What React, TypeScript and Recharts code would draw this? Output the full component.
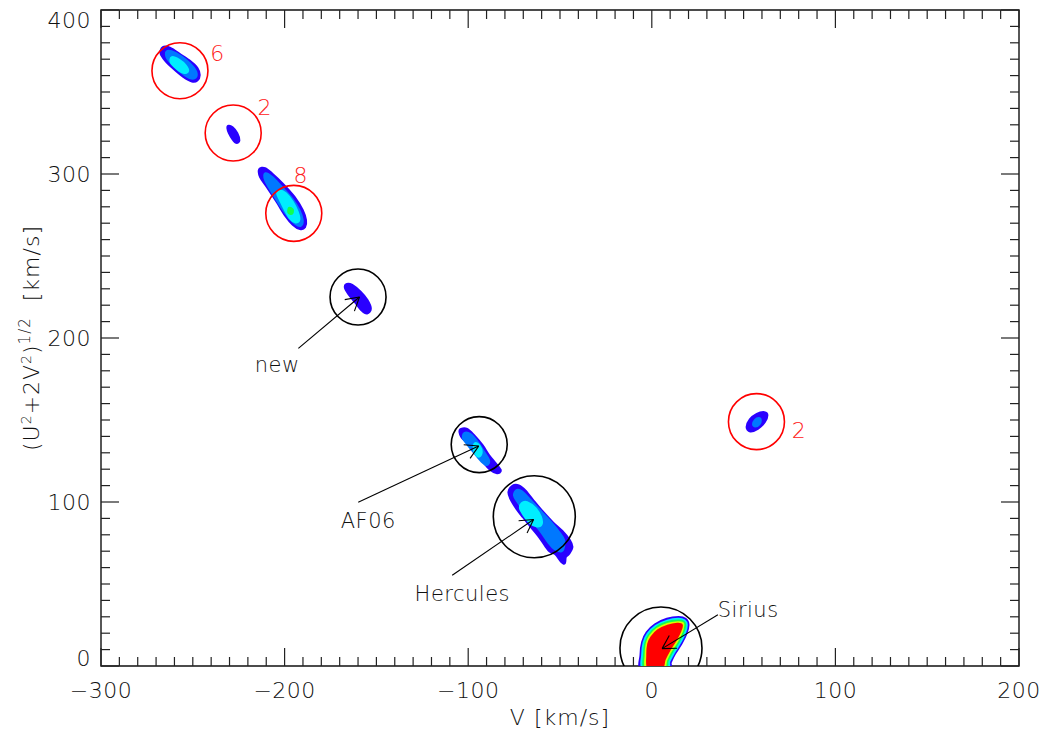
import { ReferenceArea, ReferenceLine, Scatter, ScatterChart, XAxis, YAxis } from 'recharts'

type Pt = [number, number]

const FONT = '"DejaVu Sans", sans-serif'
const LEVEL_COLORS = ['#2a00ff', '#0078ff', '#00eeff', '#10ff50', '#d8ff00', '#ff0000']

// contour outlines in (V, (U^2+2V^2)^1/2) km/s
const group6: { level: number; pts: Pt[] }[] = [
  { level: 0, pts: [[-266.2, 377.1], [-262.3, 376.6], [-256.8, 372.6], [-251.4, 368.5], [-247.7, 364.5], [-246.5, 360.4], [-247.7, 357.3], [-250.4, 356.7], [-255, 359.4], [-260.5, 364.5], [-265, 369.5], [-267.3, 373.6]] },
  { level: 1, pts: [[-264, 374.6], [-259.5, 373.6], [-254.1, 369.5], [-249.6, 364.5], [-248.1, 360.4], [-249.9, 358.4], [-254.1, 360.4], [-259.5, 365.5], [-263.7, 370.5]] },
  { level: 2, pts: [[-261.3, 371], [-257.7, 369.5], [-254.1, 366.1], [-252.8, 362.8], [-255, 362], [-258.6, 364.5], [-261.7, 368.1]] },
]

const group2: { level: number; pts: Pt[] }[] = [
  { level: 0, pts: [[-230.4, 329.1], [-228.5, 328.2], [-226, 324.8], [-224.9, 320.5], [-226.3, 319.3], [-228.2, 321.5], [-230.1, 325.1], [-230.9, 327.9]] },
]

const group8: { level: number; pts: Pt[] }[] = [
  { level: 0, pts: [[-213.6, 302.7], [-210.7, 303.3], [-206.7, 299.8], [-201.3, 294.1], [-194.9, 286], [-190.4, 277.9], [-188.6, 271.8], [-189.1, 267.7], [-191.6, 266.7], [-195.4, 269.3], [-199.5, 274.8], [-204, 282.9], [-209.4, 292.1], [-213.1, 298.2]] },
  { level: 1, pts: [[-210.3, 300.2], [-206.7, 297.8], [-202.2, 292.5], [-195.8, 284.4], [-192.2, 277.9], [-190.4, 271.8], [-191.3, 268.7], [-194, 269.8], [-197.6, 273.8], [-202.2, 280.9], [-206.7, 289], [-210.3, 296.2]] },
  { level: 2, pts: [[-202.7, 289.6], [-199.5, 288], [-195.8, 282.9], [-193.1, 276.8], [-192.2, 272.2], [-194, 270.7], [-196.7, 272.8], [-199.5, 277.9], [-202.2, 284], [-203.8, 288]] },
  { level: 3, pts: [[-197.4, 279.1], [-195.8, 278.2], [-196.1, 276], [-197.7, 276.6]] },
]

const groupNew: { level: number; pts: Pt[] }[] = [
  { level: 0, pts: [[-166, 232.7], [-163.3, 232.1], [-158.8, 228], [-155.1, 223], [-153.3, 217.9], [-155.1, 215.2], [-157.8, 216.9], [-161.5, 222], [-165.1, 227.1], [-166.9, 230.7]] },
]

const groupAF06: { level: number; pts: Pt[] }[] = [
  { level: 0, pts: [[-103.8, 144.3], [-100.7, 144.3], [-97.1, 140.7], [-92.5, 134.6], [-88.9, 128.5], [-85.2, 123.4], [-82.5, 119.3], [-84.3, 117.9], [-88, 119.9], [-91.6, 124.4], [-95.2, 129.5], [-99.8, 135.6], [-103.4, 139.6], [-104.5, 142.7]] },
  { level: 1, pts: [[-102, 141.7], [-98.9, 141.1], [-95.2, 136.6], [-91.6, 130.5], [-88.9, 125.4], [-89.8, 122.8], [-92.5, 124.8], [-96.1, 129.5], [-99.8, 134.6], [-102.5, 138.7]] },
  { level: 2, pts: [[-96.1, 135.6], [-94, 134.1], [-92.9, 130.5], [-94, 128], [-95.8, 129.5], [-96.7, 132.9]] },
]

const groupHercules: { level: number; pts: Pt[] }[] = [
  { level: 0, pts: [[-75.8, 109.6], [-72.5, 109.8], [-68.9, 106.7], [-64.4, 100.4], [-59.8, 94.3], [-54.4, 87.8], [-48.9, 82.1], [-44.9, 76.6], [-43.5, 72.6], [-45.3, 68.5], [-47.1, 66.5], [-47.5, 63], [-48.9, 63.4], [-52.5, 68.5], [-55.5, 70], [-58, 73.6], [-61.8, 79.7], [-66.3, 85.8], [-70, 90.9], [-73.5, 96], [-76.8, 102.1], [-77.8, 106.1]] },
  { level: 1, pts: [[-73.4, 107.1], [-70.7, 106.1], [-66.2, 101], [-60.7, 94.3], [-55.3, 87.8], [-50.8, 81.7], [-48, 76.6], [-48.9, 70.5], [-53, 71.6], [-56.2, 75.6], [-60, 81.7], [-64.5, 87.8], [-69, 93.9], [-72.8, 100], [-74.8, 104.1]] },
  { level: 2, pts: [[-70.7, 99], [-68, 99.6], [-63.5, 96], [-60.7, 90.9], [-60.2, 86.8], [-62.5, 85.4], [-66.3, 87.5], [-69.5, 92], [-71.5, 96]] },
]

const groupSirius: { level: number; pts: Pt[] }[] = [
  { level: 0, pts: [[-5.3, -1.4], [-5.9, 6.5], [-5, 14.6], [-2.6, 20.4], [1.9, 25.2], [8.3, 28.5], [14.6, 29.5], [18.2, 28.5], [19.7, 25.2], [18.6, 19.8], [15.9, 13.7], [12.4, 7.6], [10.1, 2.4], [8.8, -1.4]] },
  { level: 2, pts: [[-4.4, -1.4], [-5, 6.5], [-4.2, 14.3], [-2, 19.6], [2.3, 24.3], [8.4, 27.4], [14.4, 28.5], [17.7, 27.6], [18.8, 25.1], [17.8, 20.2], [15.1, 14.1], [11.7, 8], [9.3, 2.9], [7.9, -1.4]] },
  { level: 3, pts: [[-3.5, -1.4], [-4, 6.5], [-3.3, 14], [-1.3, 18.9], [2.7, 23.4], [8.4, 26.4], [14.2, 27.4], [17.2, 26.8], [17.9, 24.8], [16.9, 20.6], [14.3, 14.7], [10.8, 8.6], [8.4, 3.3], [7, -1.4]] },
  { level: 4, pts: [[-2.6, -1.4], [-3.1, 6.5], [-2.5, 13.7], [-0.7, 18.2], [3, 22.4], [8.6, 25.4], [14.1, 26.4], [16.6, 26], [16.9, 24.6], [16.1, 21], [13.6, 15.2], [10.1, 9.1], [7.6, 3.7], [6, -1.4]] },
  { level: 5, pts: [[-1.6, -1.4], [-2.2, 6.5], [-1.7, 13.4], [0, 17.4], [3.4, 21.5], [8.7, 24.3], [13.9, 25.4], [16.1, 24.8], [15.3, 21.4], [12.7, 15.7], [9.3, 9.6], [6.8, 4.1], [5.1, -1.4]] },
]

const groupRight: { level: number; pts: Pt[] }[] = [
  { level: 0, pts: [[51.9, 145.7], [53.6, 150.2], [57.3, 153.5], [61.3, 154.5], [62.7, 152.9], [61.3, 148.8], [57.6, 144.8], [53.6, 143.3]] },
  { level: 1, pts: [[55.4, 147.4], [56.4, 149.8], [58.2, 150.9], [59.1, 149.8], [58.4, 147.6], [56.4, 146.3]] },
]

const contours = [...group6, ...group2, ...group8, ...groupNew, ...groupAF06, ...groupHercules, ...groupSirius, ...groupRight]

// search circles
const redRings = [{ v: -257, r: 363 }, { v: -228, r: 325 }, { v: -195, r: 276 }, { v: 57, r: 149 }]
const blackRingsSmall = [{ v: -160, r: 225 }, { v: -94, r: 135 }]
const blackRingsLarge = [{ v: -64, r: 91 }, { v: 5, r: 11 }]

const ringCounts = [
  { v: -236.7, r: 374, text: '6' },
  { v: -211, r: 341, text: '2' },
  { v: -191.3, r: 299.5, text: '8' },
  { v: 80, r: 144, text: '2' },
]

const groupNames = [
  { v: -204, r: 184, text: 'new' },
  { v: -154.4, r: 88.8, text: 'AF06' },
  { v: -103.2, r: 44.3, text: 'Hercules' },
  { v: 52.5, r: 34.6, text: 'Sirius' },
]

const arrows = [
  { from: { v: -192.5, r: 193.7 }, to: { v: -159.2, r: 225 } },
  { from: { v: -159.9, r: 99.8 }, to: { v: -94.3, r: 134.1 } },
  { from: { v: -108.7, r: 55.3 }, to: { v: -64.4, r: 89.3 } },
  { from: { v: 36, r: 31.3 }, to: { v: 5.6, r: 10.6 } },
]

const xMajor = [-300, -200, -100, 0, 100, 200]
const yMajor = [0, 100, 200, 300, 400]
const xMinor = Array.from({ length: 49 }, (_, i) => -290 + i * 10).filter((t) => t % 100 !== 0)
const yMinor = Array.from({ length: 39 }, (_, i) => 10 + i * 10).filter((t) => t % 100 !== 0)

function smoothClosed(pts: { x: number; y: number }[]) {
  const n = pts.length
  let d = `M${pts[0].x},${pts[0].y}`
  for (let i = 0; i < n; i++) {
    const p0 = pts[(i - 1 + n) % n]
    const p1 = pts[i]
    const p2 = pts[(i + 1) % n]
    const p3 = pts[(i + 2) % n]
    const c1x = p1.x + (p2.x - p0.x) / 6
    const c1y = p1.y + (p2.y - p0.y) / 6
    const c2x = p2.x - (p3.x - p1.x) / 6
    const c2y = p2.y - (p3.y - p1.y) / 6
    d += `C${c1x},${c1y} ${c2x},${c2y} ${p2.x},${p2.y}`
  }
  return d + 'Z'
}

const xTickShape = (len: number) => (p: any) => {
  const top = Math.min(p.y1, p.y2)
  const bot = Math.max(p.y1, p.y2)
  return (
    <g stroke="#222" strokeWidth={1.2}>
      <line x1={p.x1} x2={p.x1} y1={bot} y2={bot - len} />
      <line x1={p.x1} x2={p.x1} y1={top} y2={top + len} />
    </g>
  )
}

const yTickShape = (len: number) => (p: any) => {
  const left = Math.min(p.x1, p.x2)
  const right = Math.max(p.x1, p.x2)
  return (
    <g stroke="#222" strokeWidth={1.2}>
      <line x1={left} x2={left + len} y1={p.y1} y2={p.y1} />
      <line x1={right} x2={right - len} y1={p.y1} y2={p.y1} />
    </g>
  )
}

// arrow drawn from the two scaled points of a tiny scatter series
const arrowLine = (p: any) => {
  const [a, b] = p.points
  const ang = Math.atan2(a.y - b.y, a.x - b.x)
  const h = 15
  const s = Math.PI / 6
  return (
    <g stroke="#000" strokeWidth={1.1} fill="none">
      <line x1={a.x} y1={a.y} x2={b.x} y2={b.y} />
      <line x1={b.x} y1={b.y} x2={b.x + h * Math.cos(ang + s)} y2={b.y + h * Math.sin(ang + s)} />
      <line x1={b.x} y1={b.y} x2={b.x + h * Math.cos(ang - s)} y2={b.y + h * Math.sin(ang - s)} />
    </g>
  )
}

const YTick = (p: any) => {
  const v = p.payload.value
  const dy = v === 400 ? 3 : v === 0 ? -8 : 0
  return (
    <text x={p.x} y={p.y + dy} dy="0.36em" textAnchor="end" fontSize={22} letterSpacing={0.5} fontFamily={FONT} fontWeight={200} fill="#111">
      {v}
    </text>
  )
}

const XTick = (p: any) => (
  <text x={p.x} y={p.y} dy="0.71em" textAnchor="middle" fontSize={22} letterSpacing={0.5} fontFamily={FONT} fontWeight={200} fill="#111">
    {String(p.payload.value).replace('-', '\u2212')}
  </text>
)

const YTitle = (props: any) => {
  const vb = props.viewBox
  const x = vb.x + 10
  const y = vb.y + vb.height / 2
  return (
    <text transform={`rotate(-90, ${x}, ${y})`} x={x} y={y} dy="0.36em" textAnchor="middle" fontSize={22} letterSpacing={1} fontFamily={FONT} fontWeight={200} fill="#111">
      (U<tspan dy={-8} fontSize={14}>2</tspan>
      <tspan dy={8}>+2V</tspan>
      <tspan dy={-8} fontSize={14}>2</tspan>
      <tspan dy={8}>)</tspan>
      <tspan dy={-9} fontSize={15}>1/2</tspan>
      <tspan dy={9}>{'\u00a0\u00a0[km/s]'}</tspan>
    </text>
  )
}

const XTitle = (props: any) => {
  const vb = props.viewBox
  return (
    <text x={vb.x + vb.width / 2} y={vb.y + 59} textAnchor="middle" fontSize={22} letterSpacing={1} fontFamily={FONT} fontWeight={200} fill="#111">
      V [km/s]
    </text>
  )
}

const none = () => <g />

export default function App() {
  return (
    <div style={{ padding: '8px 0 0 8px', width: 1037 }}>
      <style>{'body{margin:0}'}</style>
      <ScatterChart width={1037} height={726} margin={{ top: 2, right: 26, bottom: 28, left: 13 }}>
        <XAxis
          type="number"
          dataKey="v"
          domain={[-300, 200]}
          ticks={xMajor}
          allowDataOverflow
          axisLine={false}
          tickLine={false}
          tickMargin={10}
          height={40}
          tick={XTick}
          label={{ content: XTitle }}
        />
        <YAxis
          type="number"
          dataKey="r"
          domain={[0, 400]}
          ticks={yMajor}
          allowDataOverflow
          axisLine={false}
          tickLine={false}
          tickMargin={4}
          width={80}
          tick={YTick}
          label={{ content: YTitle }}
        />

        {xMinor.map((t) => (
          <ReferenceLine key={`xm${t}`} x={t} shape={xTickShape(9)} />
        ))}
        {xMajor.map((t) => (
          <ReferenceLine key={`xM${t}`} x={t} shape={xTickShape(18)} />
        ))}
        {yMinor.map((t) => (
          <ReferenceLine key={`ym${t}`} y={t} shape={yTickShape(9)} />
        ))}
        {yMajor.map((t) => (
          <ReferenceLine key={`yM${t}`} y={t} shape={yTickShape(18)} />
        ))}
        <ReferenceArea x1={-300} x2={200} y1={0} y2={400} fill="none" stroke="#111" strokeWidth={1.4} />

        {contours.map((c, i) => (
          <Scatter
            key={`c${i}`}
            data={c.pts.map(([v, r]) => ({ v, r }))}
            isAnimationActive={false}
            shape={none}
            lineType="joint"
            line={(p: any) => (
              <path
                d={smoothClosed(p.points)}
                fill={LEVEL_COLORS[c.level]}
                stroke={LEVEL_COLORS[c.level]}
                strokeWidth={3}
                strokeLinejoin="round"
              />
            )}
          />
        ))}

        <Scatter
          data={redRings}
          isAnimationActive={false}
          shape={(p: any) => <circle cx={p.cx} cy={p.cy} r={28} fill="none" stroke="#ff0000" strokeWidth={1.6} />}
        />
        <Scatter
          data={blackRingsSmall}
          isAnimationActive={false}
          shape={(p: any) => <circle cx={p.cx} cy={p.cy} r={28} fill="none" stroke="#000" strokeWidth={1.6} />}
        />
        <Scatter
          data={blackRingsLarge}
          isAnimationActive={false}
          shape={(p: any) => <circle cx={p.cx} cy={p.cy} r={41} fill="none" stroke="#000" strokeWidth={1.6} />}
        />

        {arrows.map((a, i) => (
          <Scatter
            key={`a${i}`}
            data={[a.from, a.to]}
            isAnimationActive={false}
            shape={none}
            lineType="joint"
            line={arrowLine}
          />
        ))}

        <Scatter
          data={ringCounts}
          isAnimationActive={false}
          shape={(p: any) => (
            <text x={p.cx} y={p.cy} dy="0.36em" textAnchor="middle" fontSize={22} fontFamily={FONT} fontWeight={200} fill="#ff2020">
              {p.payload.text}
            </text>
          )}
        />
        <Scatter
          data={groupNames}
          isAnimationActive={false}
          shape={(p: any) => (
            <text x={p.cx} y={p.cy} dy="0.36em" textAnchor="middle" fontSize={21} letterSpacing={0.5} fontFamily={FONT} fontWeight={200} fill="#111">
              {p.payload.text}
            </text>
          )}
        />
      </ScatterChart>
    </div>
  )
}
